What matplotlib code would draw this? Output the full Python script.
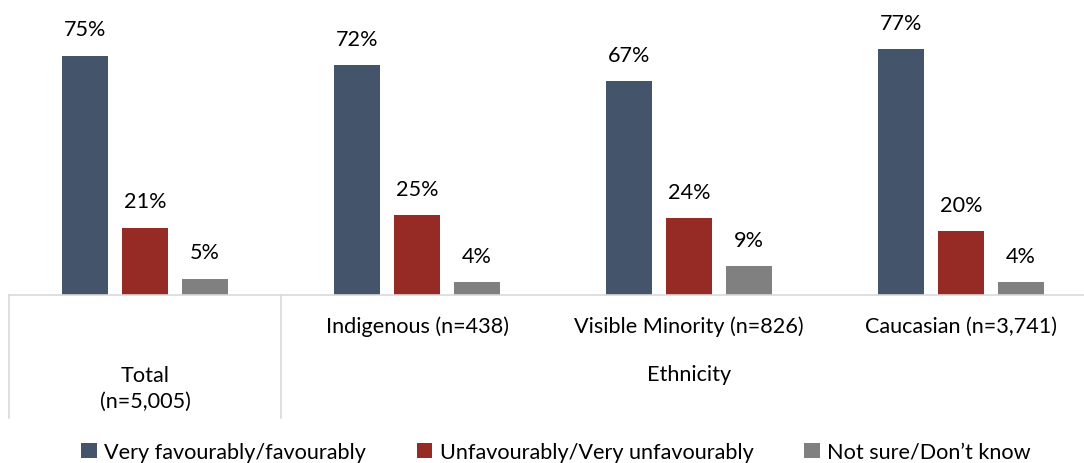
import matplotlib.pyplot as plt
import numpy as np
from matplotlib.lines import Line2D

plt.rcParams['font.family'] = ['Lato', 'DejaVu Sans']

# data
groups = ['Total', 'Indigenous (n=438)', 'Visible Minority (n=826)', 'Caucasian (n=3,741)']
series = ['Very favourably/favourably', 'Unfavourably/Very unfavourably', 'Not sure/Don\u2019t know']
favourable = [75, 72, 67, 77]
unfavourable = [21, 25, 24, 20]
not_sure = [5, 4, 9, 4]
colors = ['#44546A', '#962A25', '#808080']

W, H = 1084, 464
fig = plt.figure(figsize=(W / 100, H / 100), dpi=100)
left_px, base_px = 9, 296
ax = fig.add_axes([left_px / W, 1 - base_px / H, 1 - left_px / W, base_px / H])

x = np.arange(len(groups))
bw = 46 / 272
step = 60 / 272
vals = [favourable, unfavourable, not_sure]
fs = 15.6
for i, (v, c, name) in enumerate(zip(vals, colors, series)):
    bars = ax.bar(x + (i - 1) * step, v, bw, color=c, label=name)
    for b, val in zip(bars, v):
        ax.annotate(f'{val}%', (b.get_x() + b.get_width() / 2, b.get_height()),
                    xytext=(0, 12), textcoords='offset points',
                    ha='center', va='bottom', fontsize=fs, color='#000000')

ax.set_xlim(-0.5, -0.5 + (W - left_px) / 272)
ax.set_ylim(0, base_px / 3.19)
ax.set_xticks([])
ax.set_yticks([])
for s in ['top', 'right', 'left']:
    ax.spines[s].set_visible(False)
ax.spines['bottom'].set_color('#D9D9D9')
ax.spines['bottom'].set_linewidth(1.2)

# category axis below
line_col = '#D9D9D9'
for xp in [-0.5, 0.5]:
    ax.add_line(Line2D([xp, xp], [0, -123 / 3.19], color=line_col, lw=1.2, clip_on=False))
for gx, lab in zip(x[1:], groups[1:]):
    ax.text(gx, -31 / 3.19, lab, ha='center', va='center', fontsize=fs)
ax.text(0, -93 / 3.19, 'Total\n(n=5,005)', ha='center', va='center', fontsize=fs, linespacing=1.35)
ax.text(2, -79 / 3.19, 'Ethnicity', ha='center', va='center', fontsize=fs)

handles, labels = ax.get_legend_handles_labels()
fig.legend(handles, labels, loc='center', bbox_to_anchor=(0.513, 1 - 453 / H), ncol=3,
           frameon=False, fontsize=fs, handlelength=0.7, handleheight=0.7,
           handletextpad=0.35, columnspacing=2.35)

fig.savefig('out.png', dpi=100)
